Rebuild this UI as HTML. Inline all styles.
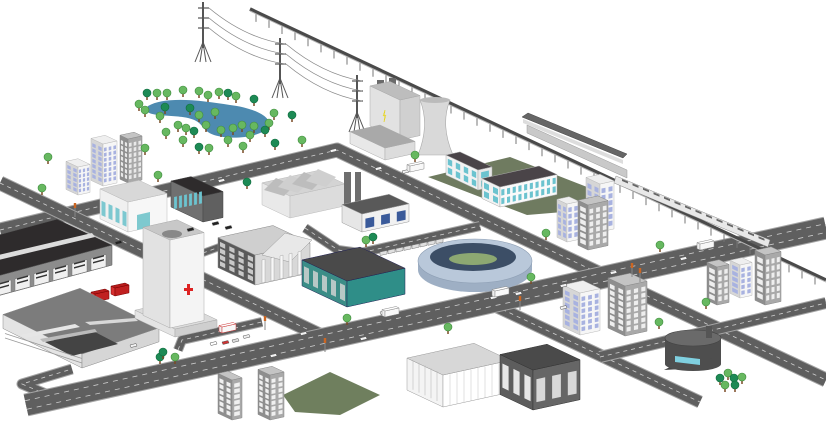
<!DOCTYPE html>
<html><head><meta charset="utf-8"><style>
html,body{margin:0;padding:0;background:#fff;width:826px;height:421px;overflow:hidden}
svg{display:block}
</style></head><body>
<svg id="s" width="826" height="421" viewBox="0 0 826 421" xmlns="http://www.w3.org/2000/svg"><rect width="826" height="421" fill="#fff"/></svg>
<script>
const S=document.getElementById('s');
function el(t,a){const e=document.createElementNS('http://www.w3.org/2000/svg',t);for(const k in a)e.setAttribute(k,a[k]);S.appendChild(e);return e;}
function pts(p){return p.map(q=>q[0].toFixed(1)+','+q[1].toFixed(1)).join(' ');}
function P(p,f,s){el('polygon',{points:pts(p),fill:f,stroke:s||'none','stroke-width':0.5});}
function road(p,w,lanes){const d=pts(p);
 el('polyline',{points:d,fill:'none',stroke:'#a5a5a5','stroke-width':w+2,'stroke-linejoin':'round'});
 el('polyline',{points:d,fill:'none',stroke:'#5f5f5f','stroke-width':w,'stroke-linejoin':'round'});
 if(lanes){el('polyline',{points:d,fill:'none',stroke:'#5f5f5f','stroke-width':1});
  el('polyline',{points:d,fill:'none',stroke:'#cfcfcf','stroke-width':w*0.45,'stroke-dasharray':'5 5'});
  el('polyline',{points:d,fill:'none',stroke:'#5f5f5f','stroke-width':w*0.45-1.6});
 } else el('polyline',{points:d,fill:'none',stroke:'#d0d0d0','stroke-width':0.8,'stroke-dasharray':'4 4'});}
function face(A,V,h,rows,cols,col){for(let i=0;i<cols;i++)for(let j=0;j<rows;j++){const u0=(i+0.22)/cols,u1=(i+0.78)/cols;const y0=h*(0.06+0.86*(j+0.15)/rows),y1=h*(0.06+0.86*(j+0.85)/rows);
 P([[A[0]+V[0]*u0,A[1]+V[1]*u0-y0],[A[0]+V[0]*u1,A[1]+V[1]*u1-y0],[A[0]+V[0]*u1,A[1]+V[1]*u1-y1],[A[0]+V[0]*u0,A[1]+V[1]*u0-y1]],col);}}
function box(px,py,wl,wr,h,c,o){o=o||{};const sl=o.sl||0.47,sr=o.sr||0.22;
 const P0=[px,py],PL=[px-wl,py-wl*sl],PR=[px+wr,py-wr*sr],PLR=[px-wl+wr,py-wl*sl-wr*sr];
 const u=p=>[p[0],p[1]-h];
 P([P0,PL,u(PL),u(P0)],c.l,c.s);P([P0,PR,u(PR),u(P0)],c.r,c.s);P([u(P0),u(PL),u(PLR),u(PR)],c.t,c.s);
 if(o.win){const w=o.win;face(PL,[wl,wl*sl],h,w.rows,w.lc,w.col);face(P0,[wr,-wr*sr],h,w.rows,w.rc,w.col);}
 return {P0,PL,PR,PLR,h};}
const WH={t:'#efefef',l:'#d6d6d6',r:'#f6f6f6',s:'#bbb'},GR={t:'#c4c4c4',l:'#8e8e8e',r:'#a9a9a9',s:'#888'};
function tree(x,y,dark,r){r=r||4;el('line',{x1:x,y1:y,x2:x,y2:y+r+3,stroke:'#7a4a25','stroke-width':1.5});el('circle',{cx:x,cy:y,r:r,fill:dark?'#1d8a55':'#67b860',stroke:dark?'#0f6a3c':'#3d8a3d','stroke-width':0.6});}
function car(x,y,c){P([[x,y],[x+6,y-1.5],[x+7,y+1],[x+1,y+2.5]],c||'#f2f2f2','#555');}

P([[428,177],[510,157],[587,187],[587,210],[527,215]],'#6f7b60');
P([[283,395],[330,372],[380,395],[340,415],[295,412]],'#6f7f5e');
el('path',{d:'M148,106 C165,96 200,100 230,105 C255,108 275,118 268,128 C258,138 230,140 214,135 C200,130 205,122 188,118 C170,114 140,118 148,106 Z',fill:'#4d8ab0'});

road([[0,230],[337,150],[826,380]],13);
road([[0,183],[330,340]],13);
road([[305,228],[338,250],[360,253],[480,226]],8);
road([[178,350],[182,340],[262,322]],8);
road([[203,253],[222,246]],6);
road([[55,398],[22,384],[72,369]],9);
road([[495,306],[700,402]],11);
road([[600,357],[826,303]],10);
road([[26,405],[826,228]],21,true);

function ptower(x,t,b){el('line',{x1:x,y1:t,x2:x,y2:b-14,stroke:'#555','stroke-width':2});
 [[-8],[-3],[3],[8]].forEach(d=>el('line',{x1:x,y1:b-20,x2:x+d[0],y2:b,stroke:'#555','stroke-width':1}));
 [t+6,t+16,t+26].forEach(y=>el('line',{x1:x-5,y1:y,x2:x+6,y2:y,stroke:'#555','stroke-width':1.2}));}
ptower(203,2,62);ptower(280,38,98);ptower(357,75,132);
[[0],[10],[20]].forEach(d=>{const k=d[0];
 el('path',{d:`M209,${8+k} Q245,${38+k} 285,${44+k}`,fill:'none',stroke:'#888','stroke-width':0.8});
 el('path',{d:`M286,${44+k} Q322,${74+k} 362,${81+k}`,fill:'none',stroke:'#888','stroke-width':0.8});});

for(let x=256;x<826;x+=13){const y=10+(x-250)*0.47;el('line',{x1:x,y1:y,x2:x,y2:y+9,stroke:'#777','stroke-width':1});}
el('line',{x1:250,y1:9,x2:826,y2:280,stroke:'#4a4a4a','stroke-width':3.5});
el('line',{x1:250,y1:11,x2:826,y2:282,stroke:'#b5b5b5','stroke-width':1});
P([[527,125],[627,170],[627,178],[527,133]],'#c9c9c9','#999');
P([[522,117],[528,113],[627,154],[623,158]],'#666','#444');
P([[523,119],[623,160],[623,164],[523,123]],'#ddd');
P([[616,176],[770,240],[768,247],[614,183]],'#e8e8e8','#888');
for(let i=0;i<14;i++){const x=622+i*10.5,y=179+i*4.4;P([[x,y],[x+6,y+2.5],[x+6,y+4.5],[x,y+2]],'#666');}

P([[377,80],[384,80],[384,102],[377,102]],'#6a6a6a');P([[389,78],[396,78],[396,100],[389,100]],'#6a6a6a');
box(400,140,30,20,40,{t:'#bdbdbd',l:'#e2e2e2',r:'#d0d0d0',s:'#aaa'});
P([[384,122],[386,115],[383,116],[385,110]],'none','#e8d400');
el('path',{d:'M420,100 L450,100 Q440,125 453,155 L418,155 Q430,125 420,100 Z',fill:'#d9d9d9',stroke:'#aaa','stroke-width':0.6});
el('ellipse',{cx:435,cy:100,rx:15,ry:3,fill:'#bbb'});
box(385,160,35,30,12,{t:'#a9a9a9',l:'#e8e8e8',r:'#dcdcdc',s:'#aaa'});

box(78,195,12,12,28,WH,{win:{rows:5,lc:2,rc:3,col:'#a8b2e0'}});
box(103,186,12,14,42,WH,{win:{rows:7,lc:2,rc:3,col:'#a8b2e0'}});
box(128,183,8,14,44,GR,{win:{rows:7,lc:2,rc:3,col:'#e8e8e8'}});
box(203,222,32,20,26,{t:'#2e2b2c',l:'#707070',r:'#606060',s:'#444'});
face([173,213],[30,-6],20,1,6,'#6cc4d0');
box(128,232,28,39,30,{t:'#d8d8d8',l:'#f0f0f0',r:'#f7f7f7',s:'#bbb'});
face([100,219],[28,13],24,1,4,'#7cc8d0');
P([[137,230],[150,227],[150,212],[137,215]],'#7ec9cf');

box(290,218,28,55,22,{t:'#d4d4d4',l:'#e9e9e9',r:'#dcdcdc',s:'#bbb'});
for(let i=0;i<4;i++){const x=264+i*14,y=190-i*3;P([[x,y],[x+12,y-12],[x+30,y-4],[x+20,y+6]],i%2?'#cfcfcf':'#bdbdbd');}
P([[344,172],[351,172],[351,208],[344,208]],'#6e6e6e');P([[355,172],[361,172],[361,205],[355,205]],'#6e6e6e');
box(362,232,20,47,18,{t:'#595959',l:'#e6e6e6',r:'#f1f1f1',s:'#999'});
face([362,232],[47,-10],16,1,3,'#3a5a9a');

box(478,190,32,14,20,{t:'#4a4448',l:'#f2f2f2',r:'#e8e8e8',s:'#aaa'},{win:{rows:2,lc:4,rc:1,col:'#6cc3cf'}});
box(500,207,18,57,20,{t:'#4a4448',l:'#f2f2f2',r:'#fafafa',s:'#aaa'},{win:{rows:2,lc:2,rc:10,col:'#6cc3cf'}});

for(let i=0;i<8;i++){const x=380+i*8,y=252-i*1.7;P([[x,y],[x+7,y-1.5],[x+7,y+2],[x,y+3.5]],'#e0e0e0','#777');}

box(-10,298,55,122,20,{t:'#2e2b2c',l:'#8c8c8c',r:'#8c8c8c',s:'#555'},{sr:0.27});
P([[-10,262],[95,237],[92,233],[-10,257]],'#dcdcdc');
for(let i=0;i<6;i++){const x=-4+i*19,y=296-i*5.1;P([[x,y],[x+15,y-4],[x+15,y-16],[x,y-12]],'#f0f0f0','#777');
 for(let k=0;k<2;k++){P([[x+2,y-7-k*4],[x+13,y-10-k*4],[x+13,y-11.5-k*4],[x+2,y-8.5-k*4]],'#333');}}
box(95,302,4,14,8,{t:'#b81c1c',l:'#d63030',r:'#c02020',s:'#700'});
box(115,296,4,14,8,{t:'#b81c1c',l:'#d63030',r:'#c02020',s:'#700'});

box(82,368,79,77,14,{t:'#7c7c7c',l:'#e4e4e4',r:'#d6d6d6',s:'#888'},{sl:0.5,sr:0.34});
P([[45,342],[95,332],[118,344],[72,356]],'#444');
P([[20,335],[75,324],[80,327],[25,338]],'#e6e6e6');P([[85,322],[135,318],[138,321],[90,325]],'#d8d8d8');
P([[40,339],[95,329],[97,332],[43,342]],'#bbb');
for(let k=1;k<3;k++)el('line',{x1:5,y1:329+k*4.5,x2:82,y2:368-14+k*4.5,stroke:'#999','stroke-width':0.8});

box(175,337,40,42,8,{t:'#dcdcdc',l:'#e4e4e4',r:'#cfcfcf',s:'#aaa'});
box(170,328,27,34,88,{t:'#c8c8c8',l:'#e2e2e2',r:'#f4f4f4',s:'#aaa'});
el('ellipse',{cx:172,cy:234,rx:10,ry:4,fill:'#888'});
P([[184,288],[193,288],[193,291],[184,291]],'#d22');P([[187,284],[190,284],[190,295],[187,295]],'#d22');
box(222,333,3,14,6,{t:'#fff',l:'#eee',r:'#f8f8f8',s:'#c33'});
car(210,343,'#fff');car(222,342,'#c33');car(232,340,'#ddd');car(243,336,'#eee');
car(187,229,'#222');car(212,223,'#222');car(225,227,'#222');car(115,242,'#222');

box(255,285,37,55,30,{t:'#cfcfcf',l:'#5a5a5a',r:'#d8d8d8',s:'#888'},{win:{rows:4,lc:4,rc:0,col:'#c8c8c8'}});
P([[262,255],[285,233],[312,240],[290,262]],'#e8e8e8','#999');
for(let i=0;i<5;i++){const x=262+i*9,y=283-i*2;P([[x,y],[x+3,y-0.7],[x+3,y-24],[x,y-23]],'#f7f7f7','#aaa');}

box(347,307,45,58,26,{t:'#4a4a4a',l:'#3b8d87',r:'#2f8e88',s:'#225'},{win:{rows:1,lc:5,rc:0,col:'#b8c8c6'}});

el('ellipse',{cx:475,cy:270,rx:57,ry:22,fill:'#9eafc4'});
el('rect',{x:418,y:261,width:114,height:9,fill:'#9eafc4'});
el('ellipse',{cx:475,cy:261,rx:57,ry:22,fill:'#b9c8da',stroke:'#8fa0b5','stroke-width':0.6});
el('ellipse',{cx:473,cy:257,rx:43,ry:14,fill:'#3c4e66'});
el('ellipse',{cx:473,cy:259,rx:24,ry:6,fill:'#8da872'});

box(600,232,14,14,48,WH,{win:{rows:6,lc:2,rc:2,col:'#a8b2e0'}});
box(567,242,10,12,38,WH,{win:{rows:5,lc:2,rc:2,col:'#a8b2e0'}});
box(588,250,10,20,45,GR,{win:{rows:6,lc:1,rc:3,col:'#eee'}});
box(717,305,10,12,38,GR,{win:{rows:5,lc:1,rc:2,col:'#eee'}});
box(740,298,10,12,33,WH,{win:{rows:5,lc:1,rc:2,col:'#a8b2e0'}});
box(765,305,10,16,50,GR,{win:{rows:6,lc:1,rc:3,col:'#eee'}});
box(580,335,17,20,42,WH,{win:{rows:6,lc:2,rc:3,col:'#a8b2e0'}});
box(625,336,17,22,50,GR,{win:{rows:7,lc:2,rc:3,col:'#eee'}});

P([[664,370],[700,368],[712,362],[676,364]],'#444');
el('rect',{x:665,y:338,width:56,height:26,fill:'#4e4e4e'});
el('ellipse',{cx:693,cy:364,rx:28,ry:7,fill:'#4e4e4e'});
el('ellipse',{cx:693,cy:338,rx:28,ry:8,fill:'#6a6a6a',stroke:'#444','stroke-width':0.6});
el('rect',{x:706,y:326,width:6,height:12,fill:'#555'});
P([[675,356],[700,359],[700,365],[675,362]],'#7fd0e0');

box(443,407,36,67,32,{t:'#d7d7d7',l:'#f4f4f4',r:'#ffffff',s:'#999'});
for(let i=1;i<6;i++){const x=407+i*6,y=357+i*2.8;el('line',{x1:x,y1:y,x2:x,y2:y+30,stroke:'#bbb','stroke-width':0.6});}
for(let i=1;i<9;i++){const x=443+i*7,y=407-i*1.6;el('line',{x1:x,y1:y,x2:x,y2:y-31,stroke:'#ccc','stroke-width':0.6});}
box(533,410,33,47,40,{t:'#4a4a4a',l:'#5d5d5d',r:'#666',s:'#333'});
face([500,394],[33,16],40,1,3,'#e6e6e6');face([533,410],[47,-10],38,1,3,'#d8d8d8');

box(232,420,14,10,40,GR,{win:{rows:6,lc:2,rc:1,col:'#f0f0f0'}});
box(270,420,12,14,45,GR,{win:{rows:7,lc:2,rc:2,col:'#f0f0f0'}});

[[75,205],[265,318],[325,340],[520,298],[640,270],[632,265]].forEach(t=>{el('line',{x1:t[0],y1:t[1],x2:t[0],y2:t[1]+12,stroke:'#888','stroke-width':1});el('rect',{x:t[0]-1.2,y:t[1]-2,width:2.4,height:5,fill:'#c62'});});

[[218,180],[330,150],[375,168],[402,171],[490,297],[560,285],[610,272],[680,258],[700,248],[360,338],[300,333],[270,355],[130,345],[560,307],[515,293],[380,312]].forEach(c=>car(c[0],c[1]));
box(385,317,3,14,6,{t:'#fff',l:'#eee',r:'#f8f8f8',s:'#888'});
box(495,297,3,14,6,{t:'#fff',l:'#eee',r:'#f8f8f8',s:'#888'});
box(410,172,3,14,6,{t:'#fff',l:'#eee',r:'#f8f8f8',s:'#888'});
box(700,250,3,14,6,{t:'#fff',l:'#eee',r:'#f8f8f8',s:'#888'});

const tr=[[147,93,1],[157,93],[167,93],[183,90],[199,91],[208,95],[219,92],[228,93,1],[236,96],[254,99,1],[139,104],[165,107,1],[190,108,1],[199,115],[178,125],[186,128],[194,131,1],[206,125],[221,130],[233,128],[242,125],[254,126],[269,123],[292,115,1],[274,113],[166,132],[183,140],[199,147,1],[209,148],[228,140],[243,146],[275,143,1],[302,140],[145,110],[160,116],[215,112],[250,135],[265,130,1],
[42,188],[48,157],[158,175],[247,182,1],[145,148],[366,240],[373,237,1],[415,155],[546,233],[531,277],[448,327],[660,245],[706,302],[659,322],[347,318],[160,357,1],[175,357],[163,352,1],[720,378,1],[728,373],[734,378,1],[742,377],[735,385,1],[725,385]];
tr.forEach(t=>tree(t[0],t[1],t[2]));
</script>
</body></html>
